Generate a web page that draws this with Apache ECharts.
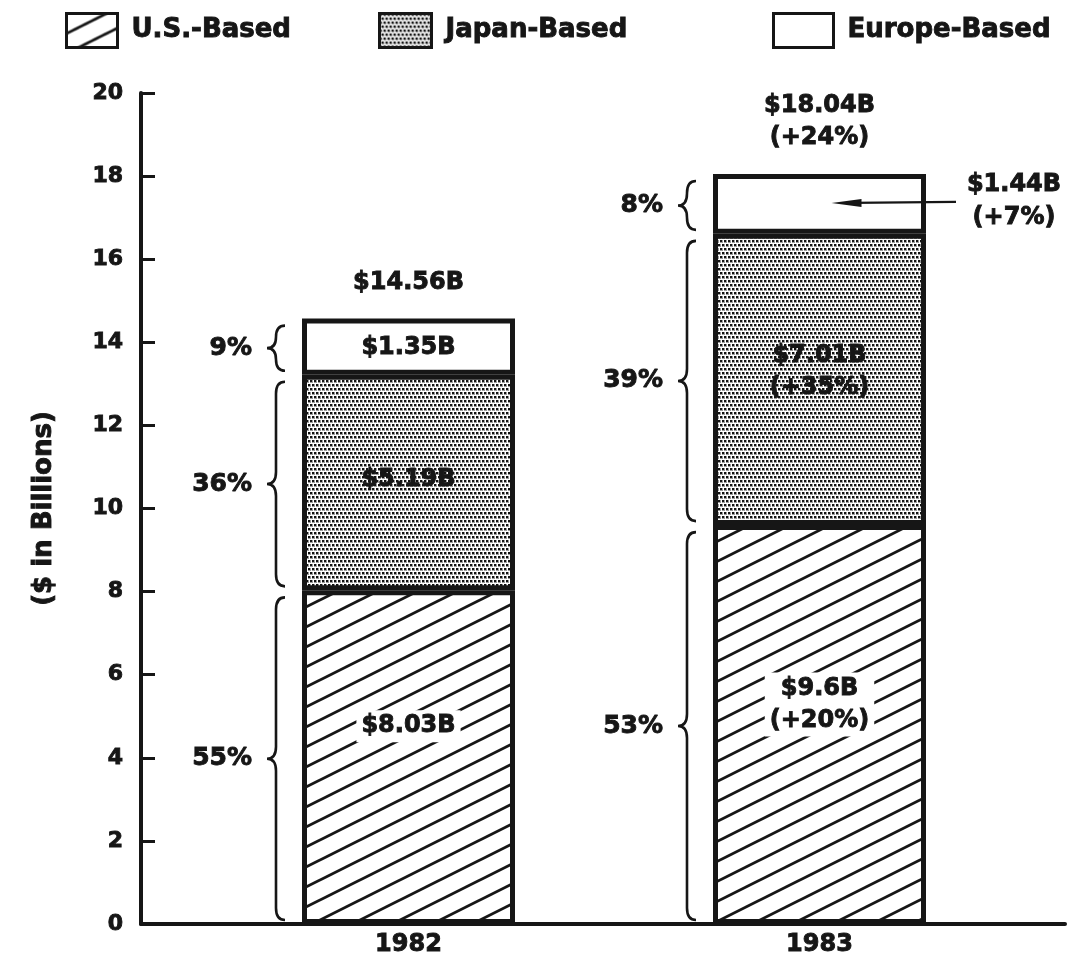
<!DOCTYPE html>
<html><head><meta charset="utf-8">
<script src="https://cdn.jsdelivr.net/npm/echarts/dist/echarts.min.js"></script>
<style>html,body{margin:0;padding:0;background:#fff}#c{width:1071px;height:963px}</style>
</head><body><div id="c"></div>
<script>
// ---------- data ----------
const categories = ['1982', '1983'];
const seriesNames = ['U.S.-Based', 'Japan-Based', 'Europe-Based'];
const usValues = [8.03, 9.6];
const japanValues = [5.19, 7.01];
const europeValues = [1.35, 1.44];
const usLabels = ['$8.03B', '$9.6B\n(+20%)'];
const japanLabels = ['$5.19B', '$7.01B\n(+35%)'];
const europeLabels = ['$1.35B', ''];
const europeCallouts = ['', '$1.44B\n(+7%)'];
const totalLabels = ['$14.56B', '$18.04B\n(+24%)'];
const usShares = ['55%', '53%'];
const japanShares = ['36%', '39%'];
const europeShares = ['9%', '8%'];
const yMin = 0, yMax = 20, yInterval = 2;

// ---------- layout / style ----------
const INK = '#161616';
const FF = '"DejaVu Sans", "Liberation Sans", sans-serif';
const BAR_W = 213;
const HEAVY = 0.9; // extra stroke to mimic the heavy original typeface
const usLabelOffsets = [[0, -31], [0, -20]];
const japanLabelOffsets = [[0, -3], [0, -8]];
const europeLabelOffsets = [[0, 1], [0, 0]];

function hatchPattern() {
  const c = document.createElement('canvas');
  c.width = 40; c.height = 20;
  const g = c.getContext('2d');
  g.fillStyle = '#fff'; g.fillRect(0, 0, 40, 20);
  g.strokeStyle = INK; g.lineWidth = 2.8;
  for (let k = -1; k <= 1; k++) {
    g.beginPath(); g.moveTo(-2, 21 + k * 20); g.lineTo(42, -1 + k * 20); g.stroke();
  }
  return c;
}
function dotPattern() {
  const c = document.createElement('canvas');
  c.width = 4; c.height = 8;
  const g = c.getContext('2d');
  g.fillStyle = '#fff'; g.fillRect(0, 0, 4, 8);
  g.fillStyle = '#9a9a9a';
  g.fillRect(0, 0, 3, 3);
  g.fillRect(2, 4, 2, 3); g.fillRect(0, 4, 1, 3);
  g.fillStyle = '#111';
  g.fillRect(0, 0, 2, 2);
  g.fillRect(2, 4, 2, 2);
  return c;
}
const usFill = { image: hatchPattern(), repeat: 'repeat' };
const jpFill = { image: dotPattern(), repeat: 'repeat' };

function font(size) { return 'bold ' + size + 'px ' + FF; }
function txt(x, y, text, size, align, vAlign, lh) {
  return { type: 'text', x: x, y: y, style: { text: text, font: font(size), fill: INK, stroke: INK, lineWidth: HEAVY, align: align, verticalAlign: vAlign, lineHeight: lh || size + 8 } };
}

function renderAnnot(params, api) {
  const i = api.value(0);
  const cx = api.coord([i, 0])[0];
  const left = cx - BAR_W / 2, right = cx + BAR_W / 2;
  const b1 = usValues[i], b2 = b1 + japanValues[i], b3 = b2 + europeValues[i];
  const bounds = [0, b1, b2, b3];
  const shares = [usShares[i], japanShares[i], europeShares[i]];
  const children = [];
  for (let k = 0; k < 3; k++) {
    const yb = api.coord([i, bounds[k]])[1] - 4;
    const yt = api.coord([i, bounds[k + 1]])[1] + 7;
    const ym = (yt + yb) / 2;
    const xr = left - 17, xm = left - 26, xt = left - 35;
    const r = Math.min(12, (yb - yt) / 4);
    const d = 'M' + xr + ',' + yt + ' Q' + xm + ',' + yt + ' ' + xm + ',' + (yt + r) +
      ' L' + xm + ',' + (ym - r) + ' Q' + xm + ',' + ym + ' ' + xt + ',' + ym +
      ' Q' + xm + ',' + ym + ' ' + xm + ',' + (ym + r) +
      ' L' + xm + ',' + (yb - r) + ' Q' + xm + ',' + yb + ' ' + xr + ',' + yb;
    children.push({ type: 'path', shape: { pathData: d }, style: { stroke: INK, lineWidth: 2.6, fill: 'none' } });
    children.push(txt(left - 50, ym, shares[k], 25, 'right', 'middle'));
  }
  const topY = api.coord([i, b3])[1];
  children.push(txt(cx, topY - 20, totalLabels[i], 24, 'center', 'bottom', 32));
  if (europeCallouts[i]) {
    const ym = api.coord([i, (b2 + b3) / 2])[1] - 1;
    const tipX = cx + 12;
    children.push({ type: 'line', shape: { x1: right + 30, y1: ym - 1, x2: tipX + 20, y2: ym }, style: { stroke: INK, lineWidth: 2.2 } });
    children.push({ type: 'polygon', shape: { points: [[tipX, ym], [tipX + 30, ym - 4], [tipX + 30, ym + 4]] }, style: { fill: INK } });
    children.push(txt(right + 88, ym - 2, europeCallouts[i], 24, 'center', 'middle', 33));
  }
  return { type: 'group', children: children };
}

const baseLabel = { show: true, position: 'inside', color: INK, fontFamily: FF, fontWeight: 'bold', fontSize: 24, lineHeight: 32, textBorderColor: INK, textBorderWidth: HEAVY };

function barData(values, labels, offsets) {
  return values.map((v, i) => ({ value: v, label: { formatter: labels[i], offset: offsets[i] } }));
}

const chart = echarts.init(document.getElementById('c'), null, { renderer: 'canvas' });
const legendCommon = {
  top: 12, padding: 0, itemHeight: 34, icon: 'rect', selectedMode: false,
  itemStyle: { borderColor: INK, borderWidth: 3 },
  textStyle: { color: INK, fontFamily: FF, fontWeight: 'bold', fontSize: 26, padding: [0, 0, 0, 9], textBorderColor: INK, textBorderWidth: HEAVY }
};
const axisText = { color: INK, fontFamily: FF, fontWeight: 'bold', textBorderColor: INK, textBorderWidth: HEAVY };
chart.setOption({
  animation: false,
  backgroundColor: '#fff',
  legend: [
    Object.assign({}, legendCommon, { left: 65, itemWidth: 51, data: [seriesNames[0]] }),
    Object.assign({}, legendCommon, { left: 378, itemWidth: 52, data: [seriesNames[1]] }),
    Object.assign({}, legendCommon, { left: 772, itemWidth: 60, data: [seriesNames[2]] })
  ],
  grid: [
    { left: 203, right: 46, top: 93, bottom: 39 },
    { left: 141, right: 6, top: 93, bottom: 39 }
  ],
  xAxis: [
    {
      type: 'category', data: categories, gridIndex: 0,
      axisLine: { show: false }, axisTick: { show: false },
      axisLabel: Object.assign({ fontSize: 24, margin: 9 }, axisText)
    },
    {
      type: 'value', gridIndex: 1, min: 0, max: 1,
      axisLine: { show: true, lineStyle: { color: INK, width: 4 } },
      axisTick: { show: false }, axisLabel: { show: false }, splitLine: { show: false }
    }
  ],
  yAxis: [
    {
      type: 'value', gridIndex: 0, min: yMin, max: yMax, interval: yInterval, offset: 62,
      name: '($ in Billions)', nameLocation: 'middle', nameGap: 84, nameRotate: 90,
      nameTextStyle: Object.assign({ fontSize: 26 }, axisText),
      axisLine: { show: true, lineStyle: { color: INK, width: 4 } },
      axisTick: { show: true, inside: true, length: 14, lineStyle: { color: INK, width: 3 } },
      axisLabel: Object.assign({ fontSize: 22, margin: 18 }, axisText),
      splitLine: { show: false }
    },
    { type: 'value', gridIndex: 1, min: 0, max: 1, show: false }
  ],
  series: [
    {
      name: seriesNames[0], type: 'bar', stack: 'total', barWidth: BAR_W,
      itemStyle: { color: usFill, borderColor: INK, borderWidth: 5 },
      label: Object.assign({}, baseLabel, { backgroundColor: '#fff', padding: [0, 5] }),
      emphasis: { disabled: true },
      data: barData(usValues, usLabels, usLabelOffsets)
    },
    {
      name: seriesNames[1], type: 'bar', stack: 'total', barWidth: BAR_W,
      itemStyle: { color: jpFill, borderColor: INK, borderWidth: 5 },
      label: Object.assign({}, baseLabel),
      emphasis: { disabled: true },
      data: barData(japanValues, japanLabels, japanLabelOffsets)
    },
    {
      name: seriesNames[2], type: 'bar', stack: 'total', barWidth: BAR_W,
      itemStyle: { color: '#fff', borderColor: INK, borderWidth: 5 },
      label: Object.assign({}, baseLabel),
      emphasis: { disabled: true },
      data: barData(europeValues, europeLabels, europeLabelOffsets)
    },
    {
      name: 'annotations', type: 'custom', xAxisIndex: 0, yAxisIndex: 0,
      renderItem: renderAnnot, clip: false, silent: true, z: 5,
      encode: { x: 0, y: 1 },
      data: categories.map((c, i) => [i, 0])
    }
  ]
});
</script></body></html>
